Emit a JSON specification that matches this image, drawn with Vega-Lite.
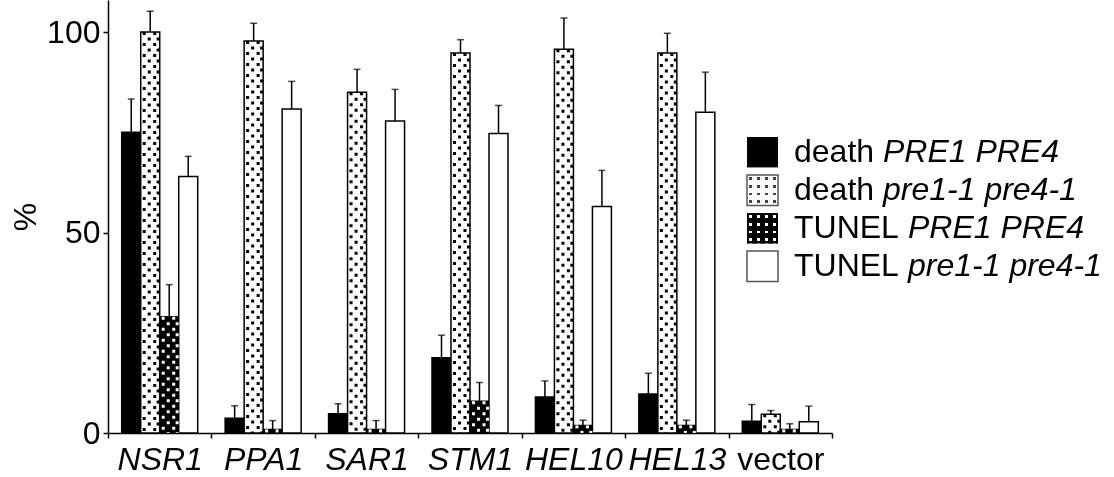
{
  "$schema": "https://vega.github.io/schema/vega-lite/v6.json",
  "width": 724,
  "height": 433,
  "autosize": {"type": "none"},
  "padding": {"left": 108, "top": 0, "right": 282, "bottom": 44},
  "background": "white",
  "config": {"view": {"stroke": null}, "font": "Liberation Sans"},
  "datasets": {
    "bars": [
      {"gene": "NSR1", "series": "death PRE1 PRE4", "value": 75, "hi": 83.3},
      {"gene": "NSR1", "series": "death pre1-1 pre4-1", "value": 100, "hi": 105.2},
      {"gene": "NSR1", "series": "TUNEL PRE1 PRE4", "value": 29, "hi": 37},
      {"gene": "NSR1", "series": "TUNEL pre1-1 pre4-1", "value": 64, "hi": 69},
      {"gene": "PPA1", "series": "death PRE1 PRE4", "value": 3.7, "hi": 6.8},
      {"gene": "PPA1", "series": "death pre1-1 pre4-1", "value": 97.8, "hi": 102.2},
      {"gene": "PPA1", "series": "TUNEL PRE1 PRE4", "value": 0.9, "hi": 3.1},
      {"gene": "PPA1", "series": "TUNEL pre1-1 pre4-1", "value": 80.8, "hi": 87.7},
      {"gene": "SAR1", "series": "death PRE1 PRE4", "value": 4.8, "hi": 7.3},
      {"gene": "SAR1", "series": "death pre1-1 pre4-1", "value": 85, "hi": 90.7},
      {"gene": "SAR1", "series": "TUNEL PRE1 PRE4", "value": 0.9, "hi": 3.1},
      {"gene": "SAR1", "series": "TUNEL pre1-1 pre4-1", "value": 77.8, "hi": 85.7},
      {"gene": "STM1", "series": "death PRE1 PRE4", "value": 18.8, "hi": 24.4},
      {"gene": "STM1", "series": "death pre1-1 pre4-1", "value": 94.8, "hi": 98.1},
      {"gene": "STM1", "series": "TUNEL PRE1 PRE4", "value": 7.9, "hi": 12.6},
      {"gene": "STM1", "series": "TUNEL pre1-1 pre4-1", "value": 74.7, "hi": 81.7},
      {"gene": "HEL10", "series": "death PRE1 PRE4", "value": 9, "hi": 13},
      {"gene": "HEL10", "series": "death pre1-1 pre4-1", "value": 95.7, "hi": 103.5},
      {"gene": "HEL10", "series": "TUNEL PRE1 PRE4", "value": 1.9, "hi": 3.2},
      {"gene": "HEL10", "series": "TUNEL pre1-1 pre4-1", "value": 56.5, "hi": 65.5},
      {"gene": "HEL13", "series": "death PRE1 PRE4", "value": 9.7, "hi": 14.9},
      {"gene": "HEL13", "series": "death pre1-1 pre4-1", "value": 94.8, "hi": 99.7},
      {"gene": "HEL13", "series": "TUNEL PRE1 PRE4", "value": 1.9, "hi": 3.2},
      {"gene": "HEL13", "series": "TUNEL pre1-1 pre4-1", "value": 80, "hi": 90},
      {"gene": "vector", "series": "death PRE1 PRE4", "value": 2.9, "hi": 7.1},
      {"gene": "vector", "series": "death pre1-1 pre4-1", "value": 4.7, "hi": 5.6},
      {"gene": "vector", "series": "TUNEL PRE1 PRE4", "value": 0.9, "hi": 2.3},
      {"gene": "vector", "series": "TUNEL pre1-1 pre4-1", "value": 2.8, "hi": 6.7}
    ],
    "legend": [
      {"series": "death PRE1 PRE4", "word": "death", "gene": "PRE1 PRE4"},
      {"series": "death pre1-1 pre4-1", "word": "death", "gene": "pre1-1 pre4-1"},
      {"series": "TUNEL PRE1 PRE4", "word": "TUNEL", "gene": "PRE1 PRE4"},
      {"series": "TUNEL pre1-1 pre4-1", "word": "TUNEL", "gene": "pre1-1 pre4-1"}
    ]
  },
  "resolve": {"scale": {"x": "independent", "y": "independent", "xOffset": "independent"}},
  "layer": [
    {
      "data": {"name": "bars"},
      "mark": {"type": "bar", "stroke": "black", "strokeWidth": 1.5},
      "encoding": {
        "x": {
          "field": "gene", "type": "nominal",
          "scale": {"domain": ["NSR1", "PPA1", "SAR1", "STM1", "HEL10", "HEL13", "vector"], "paddingInner": 0, "paddingOuter": 0},
          "axis": {
            "title": null, "tickBand": "extent", "tickSize": 5, "tickWidth": 1.5, "tickColor": "black",
            "domainColor": "black", "domainWidth": 1.5, "labelFont": "Liberation Sans", "labelFontSize": 32,
            "labelColor": "black", "labelPadding": 6, "labelAngle": 0, "labelOverlap": false, "grid": false,
            "labelFontStyle": {"condition": {"test": "datum.value === 'vector'", "value": "normal"}, "value": "italic"}
          }
        },
        "xOffset": {
          "field": "series", "type": "nominal",
          "scale": {"domain": ["death PRE1 PRE4", "death pre1-1 pre4-1", "TUNEL PRE1 PRE4", "TUNEL pre1-1 pre4-1"], "paddingInner": 0, "paddingOuter": 0.722}
        },
        "y": {
          "field": "value", "type": "quantitative",
          "scale": {"domain": [0, 108], "nice": false, "zero": true},
          "axis": {
            "title": "%", "values": [0, 50, 100], "tickSize": 5, "tickWidth": 1.5, "tickColor": "black",
            "domainColor": "black", "domainWidth": 1.5, "labelFont": "Liberation Sans", "labelFontSize": 32,
            "labelColor": "black", "labelPadding": 3, "titleFont": "Liberation Sans", "titleFontSize": 32,
            "titleFontWeight": "normal", "titleColor": "black", "titlePadding": 4, "grid": false
          }
        },
        "fill": {
          "field": "series", "type": "nominal",
          "scale": {"domain": ["death PRE1 PRE4", "death pre1-1 pre4-1", "TUNEL PRE1 PRE4", "TUNEL pre1-1 pre4-1"], "range": ["black", "white", "black", "white"]},
          "legend": null
        }
      }
    },
    {
      "data": {"name": "bars"},
      "transform": [{"filter": "datum.series === 'death pre1-1 pre4-1' || datum.series === 'TUNEL PRE1 PRE4'"}],
      "mark": {"type": "rule", "strokeWidth": 3, "strokeDash": [3, 8], "strokeCap": "butt"},
      "encoding": {
        "x": {"field": "gene", "type": "nominal", "scale": {"domain": ["NSR1", "PPA1", "SAR1", "STM1", "HEL10", "HEL13", "vector"], "paddingInner": 0, "paddingOuter": 0}, "axis": null},
        "xOffset": {"field": "series", "type": "nominal", "scale": {"domain": ["death PRE1 PRE4", "death pre1-1 pre4-1", "TUNEL PRE1 PRE4", "TUNEL pre1-1 pre4-1"], "paddingInner": 0, "paddingOuter": 0.722, "align": 0.281}},
        "y": {"field": "value", "type": "quantitative", "scale": {"domain": [0, 108], "nice": false, "zero": true}, "axis": null},
        "y2": {"datum": 0},
        "stroke": {"condition": {"test": "datum.series === 'TUNEL PRE1 PRE4'", "value": "white"}, "value": "black"}
      }
    },
    {
      "data": {"name": "bars"},
      "transform": [{"filter": "datum.series === 'death pre1-1 pre4-1' || datum.series === 'TUNEL PRE1 PRE4'"}],
      "mark": {"type": "rule", "strokeWidth": 3, "strokeDash": [3, 8], "strokeCap": "butt"},
      "encoding": {
        "x": {"field": "gene", "type": "nominal", "scale": {"domain": ["NSR1", "PPA1", "SAR1", "STM1", "HEL10", "HEL13", "vector"], "paddingInner": 0, "paddingOuter": 0}, "axis": null},
        "xOffset": {"field": "series", "type": "nominal", "scale": {"domain": ["death PRE1 PRE4", "death pre1-1 pre4-1", "TUNEL PRE1 PRE4", "TUNEL pre1-1 pre4-1"], "paddingInner": 0, "paddingOuter": 0.722, "align": 0.664}},
        "y": {"field": "value", "type": "quantitative", "scale": {"domain": [0, 108], "nice": false, "zero": true}, "axis": null},
        "y2": {"datum": 0},
        "stroke": {"condition": {"test": "datum.series === 'TUNEL PRE1 PRE4'", "value": "white"}, "value": "black"}
      }
    },
    {
      "data": {"name": "bars"},
      "transform": [{"filter": "datum.series === 'death pre1-1 pre4-1' || datum.series === 'TUNEL PRE1 PRE4'"}],
      "mark": {"type": "rule", "strokeWidth": 3, "strokeDash": [3, 8], "strokeDashOffset": 5.5, "strokeCap": "butt"},
      "encoding": {
        "x": {"field": "gene", "type": "nominal", "scale": {"domain": ["NSR1", "PPA1", "SAR1", "STM1", "HEL10", "HEL13", "vector"], "paddingInner": 0, "paddingOuter": 0}, "axis": null},
        "xOffset": {"field": "series", "type": "nominal", "scale": {"domain": ["death PRE1 PRE4", "death pre1-1 pre4-1", "TUNEL PRE1 PRE4", "TUNEL pre1-1 pre4-1"], "paddingInner": 0, "paddingOuter": 0.722, "align": 0.464}},
        "y": {"field": "value", "type": "quantitative", "scale": {"domain": [0, 108], "nice": false, "zero": true}, "axis": null},
        "y2": {"datum": 0},
        "stroke": {"condition": {"test": "datum.series === 'TUNEL PRE1 PRE4'", "value": "white"}, "value": "black"}
      }
    },
    {
      "data": {"name": "bars"},
      "transform": [{"filter": "datum.series === 'death pre1-1 pre4-1' || datum.series === 'TUNEL PRE1 PRE4'"}],
      "mark": {"type": "rule", "strokeWidth": 3, "strokeDash": [3, 8], "strokeDashOffset": 5.5, "strokeCap": "butt"},
      "encoding": {
        "x": {"field": "gene", "type": "nominal", "scale": {"domain": ["NSR1", "PPA1", "SAR1", "STM1", "HEL10", "HEL13", "vector"], "paddingInner": 0, "paddingOuter": 0}, "axis": null},
        "xOffset": {"field": "series", "type": "nominal", "scale": {"domain": ["death PRE1 PRE4", "death pre1-1 pre4-1", "TUNEL PRE1 PRE4", "TUNEL pre1-1 pre4-1"], "paddingInner": 0, "paddingOuter": 0.722, "align": 0.79}},
        "y": {"field": "value", "type": "quantitative", "scale": {"domain": [0, 108], "nice": false, "zero": true}, "axis": null},
        "y2": {"datum": 0},
        "stroke": {"condition": {"test": "datum.series === 'TUNEL PRE1 PRE4'", "value": "white"}, "value": "black"}
      }
    },
    {
      "data": {"name": "bars"},
      "mark": {"type": "rule", "color": "black", "strokeWidth": 1.5},
      "encoding": {
        "x": {"field": "gene", "type": "nominal", "scale": {"domain": ["NSR1", "PPA1", "SAR1", "STM1", "HEL10", "HEL13", "vector"], "paddingInner": 0, "paddingOuter": 0}, "axis": null},
        "xOffset": {"field": "series", "type": "nominal", "scale": {"domain": ["death PRE1 PRE4", "death pre1-1 pre4-1", "TUNEL PRE1 PRE4", "TUNEL pre1-1 pre4-1"], "paddingInner": 0, "paddingOuter": 0.722}},
        "y": {"field": "value", "type": "quantitative", "scale": {"domain": [0, 108], "nice": false, "zero": true}, "axis": null},
        "y2": {"field": "hi"}
      }
    },
    {
      "data": {"name": "bars"},
      "mark": {"type": "tick", "color": "black", "size": 7, "thickness": 1.5},
      "encoding": {
        "x": {"field": "gene", "type": "nominal", "scale": {"domain": ["NSR1", "PPA1", "SAR1", "STM1", "HEL10", "HEL13", "vector"], "paddingInner": 0, "paddingOuter": 0}, "axis": null},
        "xOffset": {"field": "series", "type": "nominal", "scale": {"domain": ["death PRE1 PRE4", "death pre1-1 pre4-1", "TUNEL PRE1 PRE4", "TUNEL pre1-1 pre4-1"], "paddingInner": 0, "paddingOuter": 0.722}},
        "y": {"field": "hi", "type": "quantitative", "scale": {"domain": [0, 108], "nice": false, "zero": true}, "axis": null}
      }
    },
    {
      "data": {"name": "legend"},
      "resolve": {"scale": {"x": "independent"}},
      "encoding": {
        "y": {
          "field": "series", "type": "nominal",
          "scale": {"type": "band", "domain": ["death PRE1 PRE4", "death pre1-1 pre4-1", "TUNEL PRE1 PRE4", "TUNEL pre1-1 pre4-1"], "range": [137, 281.5], "paddingInner": 0.2, "paddingOuter": 0},
          "axis": null
        }
      },
      "layer": [
        {
          "transform": [{"filter": "datum.series === 'death PRE1 PRE4'"}],
          "mark": {"type": "rect", "fill": "black"},
          "encoding": {"x": {"datum": "s", "type": "nominal", "scale": {"type": "band", "domain": ["s"], "range": [639, 670], "paddingInner": 0, "paddingOuter": 0}, "axis": null}}
        },
        {
          "transform": [{"filter": "datum.series === 'death pre1-1 pre4-1'"}],
          "mark": {"type": "rect", "fill": {"gradient": "linear", "x1": 0, "y1": 0, "x2": 1, "y2": 0, "stops": [
            {"offset": 0, "color": "white"}, {"offset": 0.08, "color": "white"}, {"offset": 0.08, "color": "#444444"}, {"offset": 0.17, "color": "#444444"},
            {"offset": 0.17, "color": "white"}, {"offset": 0.33, "color": "white"}, {"offset": 0.33, "color": "#444444"}, {"offset": 0.42, "color": "#444444"},
            {"offset": 0.42, "color": "white"}, {"offset": 0.58, "color": "white"}, {"offset": 0.58, "color": "#444444"}, {"offset": 0.67, "color": "#444444"},
            {"offset": 0.67, "color": "white"}, {"offset": 0.83, "color": "white"}, {"offset": 0.83, "color": "#444444"}, {"offset": 0.92, "color": "#444444"},
            {"offset": 0.92, "color": "white"}, {"offset": 1, "color": "white"}]}},
          "encoding": {"x": {"datum": "s", "type": "nominal", "scale": {"type": "band", "domain": ["s"], "range": [639, 670], "paddingInner": 0, "paddingOuter": 0}, "axis": null}}
        },
        {
          "transform": [{"filter": "datum.series === 'death pre1-1 pre4-1'"}],
          "mark": {"type": "rect", "blend": "lighten", "fill": {"gradient": "linear", "x1": 0, "y1": 0, "x2": 0, "y2": 1, "stops": [
            {"offset": 0, "color": "white"}, {"offset": 0.08, "color": "white"}, {"offset": 0.08, "color": "#444444"}, {"offset": 0.17, "color": "#444444"},
            {"offset": 0.17, "color": "white"}, {"offset": 0.33, "color": "white"}, {"offset": 0.33, "color": "#444444"}, {"offset": 0.42, "color": "#444444"},
            {"offset": 0.42, "color": "white"}, {"offset": 0.58, "color": "white"}, {"offset": 0.58, "color": "#444444"}, {"offset": 0.67, "color": "#444444"},
            {"offset": 0.67, "color": "white"}, {"offset": 0.83, "color": "white"}, {"offset": 0.83, "color": "#444444"}, {"offset": 0.92, "color": "#444444"},
            {"offset": 0.92, "color": "white"}, {"offset": 1, "color": "white"}]}},
          "encoding": {"x": {"datum": "s", "type": "nominal", "scale": {"type": "band", "domain": ["s"], "range": [639, 670], "paddingInner": 0, "paddingOuter": 0}, "axis": null}}
        },
        {
          "transform": [{"filter": "datum.series === 'TUNEL PRE1 PRE4'"}],
          "mark": {"type": "rect", "fill": {"gradient": "linear", "x1": 0, "y1": 0, "x2": 1, "y2": 0, "stops": [
            {"offset": 0, "color": "black"}, {"offset": 0.08, "color": "black"}, {"offset": 0.08, "color": "white"}, {"offset": 0.17, "color": "white"},
            {"offset": 0.17, "color": "black"}, {"offset": 0.33, "color": "black"}, {"offset": 0.33, "color": "white"}, {"offset": 0.42, "color": "white"},
            {"offset": 0.42, "color": "black"}, {"offset": 0.58, "color": "black"}, {"offset": 0.58, "color": "white"}, {"offset": 0.67, "color": "white"},
            {"offset": 0.67, "color": "black"}, {"offset": 0.83, "color": "black"}, {"offset": 0.83, "color": "white"}, {"offset": 0.92, "color": "white"},
            {"offset": 0.92, "color": "black"}, {"offset": 1, "color": "black"}]}},
          "encoding": {"x": {"datum": "s", "type": "nominal", "scale": {"type": "band", "domain": ["s"], "range": [639, 670], "paddingInner": 0, "paddingOuter": 0}, "axis": null}}
        },
        {
          "transform": [{"filter": "datum.series === 'TUNEL PRE1 PRE4'"}],
          "mark": {"type": "rect", "blend": "darken", "fill": {"gradient": "linear", "x1": 0, "y1": 0, "x2": 0, "y2": 1, "stops": [
            {"offset": 0, "color": "black"}, {"offset": 0.08, "color": "black"}, {"offset": 0.08, "color": "white"}, {"offset": 0.17, "color": "white"},
            {"offset": 0.17, "color": "black"}, {"offset": 0.33, "color": "black"}, {"offset": 0.33, "color": "white"}, {"offset": 0.42, "color": "white"},
            {"offset": 0.42, "color": "black"}, {"offset": 0.58, "color": "black"}, {"offset": 0.58, "color": "white"}, {"offset": 0.67, "color": "white"},
            {"offset": 0.67, "color": "black"}, {"offset": 0.83, "color": "black"}, {"offset": 0.83, "color": "white"}, {"offset": 0.92, "color": "white"},
            {"offset": 0.92, "color": "black"}, {"offset": 1, "color": "black"}]}},
          "encoding": {"x": {"datum": "s", "type": "nominal", "scale": {"type": "band", "domain": ["s"], "range": [639, 670], "paddingInner": 0, "paddingOuter": 0}, "axis": null}}
        },
        {
          "transform": [{"filter": "datum.series === 'TUNEL pre1-1 pre4-1'"}],
          "mark": {"type": "rect", "fill": "white"},
          "encoding": {"x": {"datum": "s", "type": "nominal", "scale": {"type": "band", "domain": ["s"], "range": [639, 670], "paddingInner": 0, "paddingOuter": 0}, "axis": null}}
        },
        {
          "transform": [{"filter": "datum.series === 'TUNEL pre1-1 pre4-1' || datum.series === 'death pre1-1 pre4-1'"}],
          "mark": {"type": "rect", "fill": "white", "fillOpacity": 0, "stroke": "#555555", "strokeWidth": 1.5},
          "encoding": {"x": {"datum": "s", "type": "nominal", "scale": {"type": "band", "domain": ["s"], "range": [639, 670], "paddingInner": 0, "paddingOuter": 0}, "axis": null}}
        },
        {
          "mark": {"type": "text", "align": "left", "baseline": "middle", "font": "Liberation Sans", "fontSize": 32, "color": "black"},
          "encoding": {
            "x": {"field": "word", "type": "nominal", "scale": {"type": "point", "domain": ["death", "TUNEL"], "range": [686, 686], "padding": 0}, "axis": null},
            "text": {"field": "word"}
          }
        },
        {
          "mark": {"type": "text", "align": "left", "baseline": "middle", "font": "Liberation Sans", "fontSize": 32, "fontStyle": "italic", "color": "black"},
          "encoding": {
            "x": {"field": "word", "type": "nominal", "scale": {"type": "point", "domain": ["death", "TUNEL"], "range": [775, 800], "padding": 0}, "axis": null},
            "text": {"field": "gene"}
          }
        }
      ]
    }
  ]
}
